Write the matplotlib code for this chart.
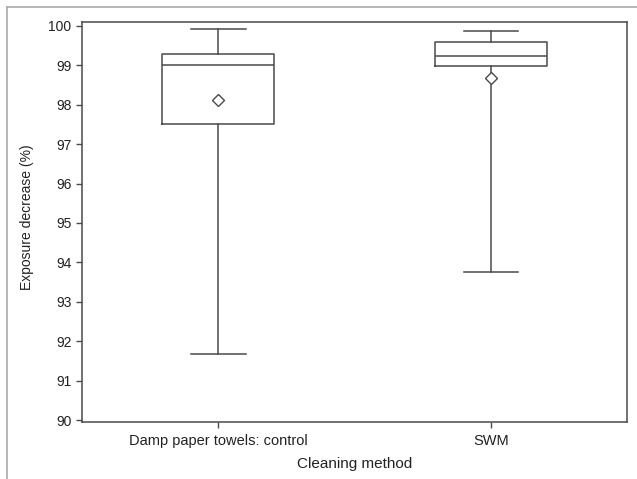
import matplotlib
matplotlib.use("Agg")
import matplotlib.pyplot as plt
from matplotlib.lines import Line2D

# Box statistics (exposure decrease, %)
methods = ["Damp paper towels: control", "SWM"]
whisker_low = [91.68, 93.76]
q1 = [97.51, 98.99]
medians = [99.0, 99.24]
q3 = [99.29, 99.59]
whisker_high = [99.91, 99.88]
means = [98.12, 98.69]

plt.rcParams["font.family"] = ["Liberation Sans", "DejaVu Sans"]

stats = []
for i, name in enumerate(methods):
    stats.append({
        "label": name,
        "whislo": whisker_low[i],
        "q1": q1[i],
        "med": medians[i],
        "q3": q3[i],
        "whishi": whisker_high[i],
        "mean": means[i],
        "fliers": [],
    })

fig = plt.figure(figsize=(6.37, 4.79), dpi=100)
ax = fig.add_axes([82 / 637, 1 - 422 / 479, 545 / 637, 400 / 479])

gray = "#4a4a4a"
line_kw = dict(color=gray, linewidth=1.1)
ax.bxp(stats, positions=[1, 2], widths=0.41, showmeans=True,
       boxprops=line_kw, whiskerprops=line_kw, capprops=line_kw,
       medianprops=line_kw, capwidths=0.2,
       meanprops=dict(marker="D", markerfacecolor="white",
                      markeredgecolor=gray, markersize=6, markeredgewidth=1.0))

ax.set_xlim(0.5, 2.5)
ax.set_ylim(89.95, 100.1)
ax.set_yticks(range(90, 101))
ax.set_xticks([1, 2])
ax.set_xticklabels(methods)
ax.tick_params(colors=gray, labelcolor="#222222", labelsize=10, length=4, width=1)
ax.tick_params(axis="x", labelsize=10.5, pad=4.5)
for s in ax.spines.values():
    s.set_color(gray)
    s.set_linewidth(1.1)

ax.set_xlabel("Cleaning method", fontsize=11, color="#222222", labelpad=6.5)
ax.set_ylabel("Exposure decrease (%)", fontsize=10, color="#222222")
ax.yaxis.set_label_coords(-0.088, 0.5125)

# outer frame lines (top and left)
fig.add_artist(Line2D([7 / 637, 1], [1 - 7 / 479, 1 - 7 / 479],
                      transform=fig.transFigure, color="#aaaaaa", linewidth=1.2))
fig.add_artist(Line2D([7 / 637, 7 / 637], [0, 1 - 7 / 479],
                      transform=fig.transFigure, color="#aaaaaa", linewidth=1.2))

fig.savefig("out.png", dpi=100)
